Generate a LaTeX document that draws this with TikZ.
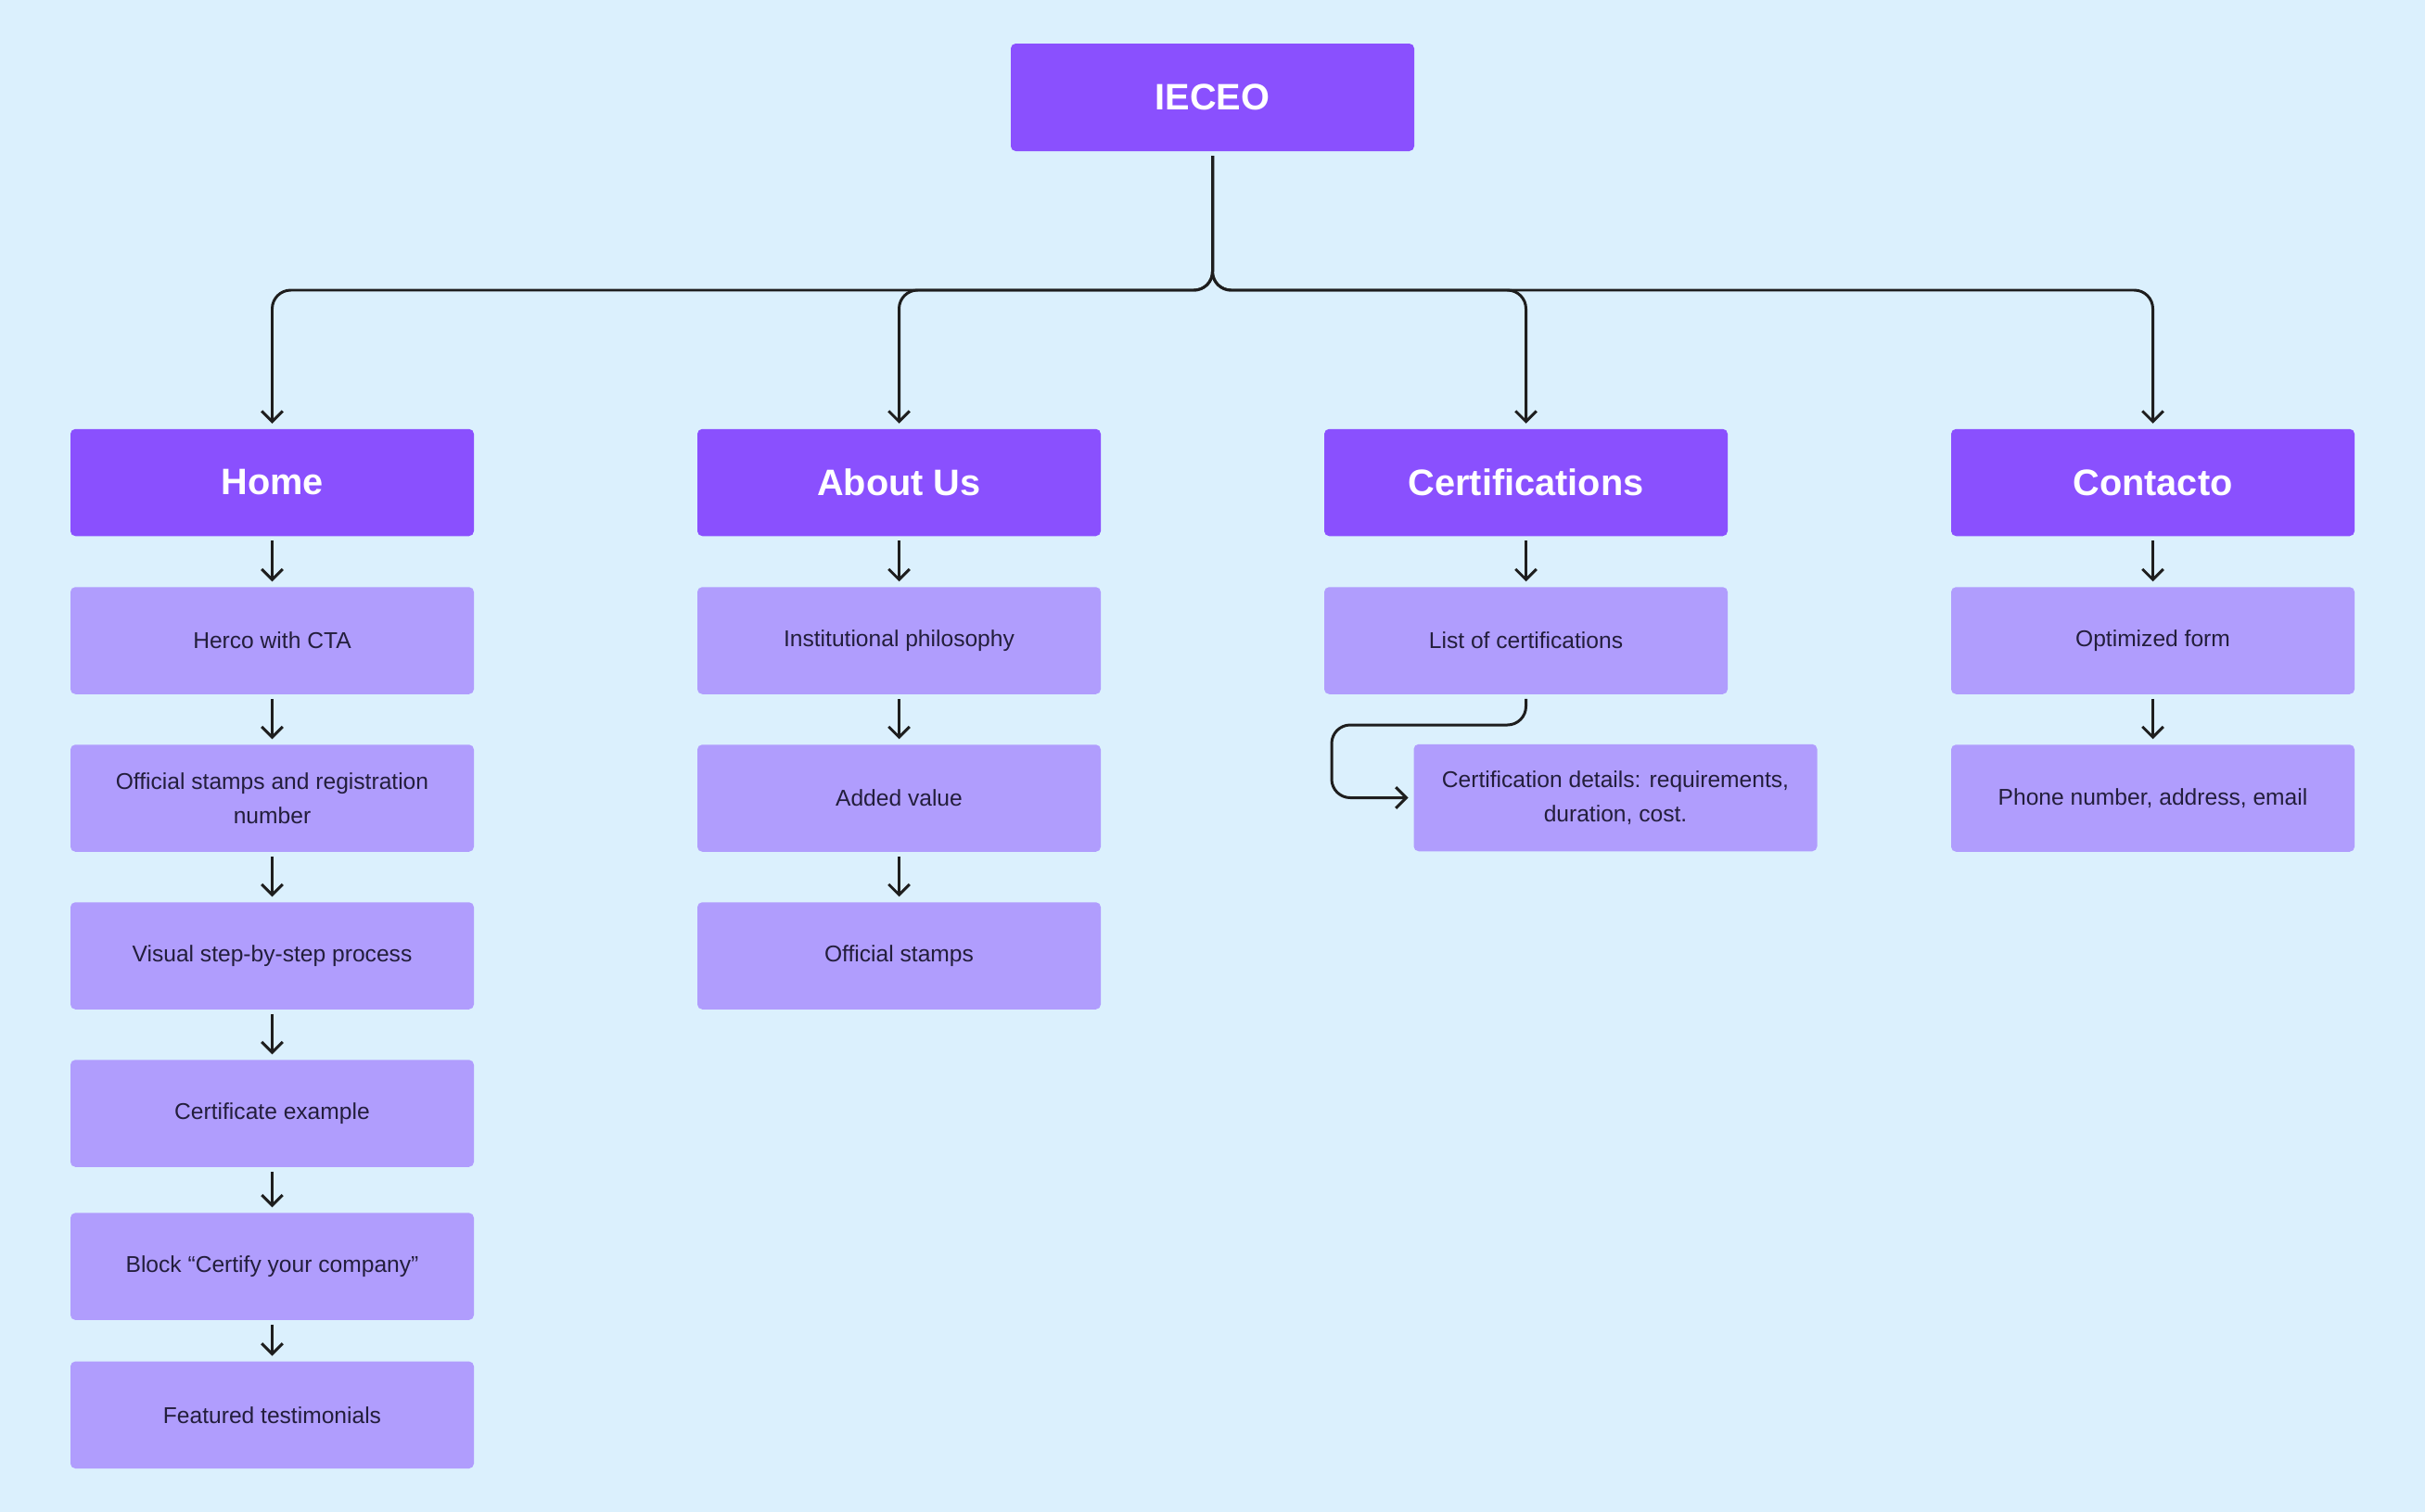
\documentclass[tikz,border=0pt]{standalone}
\usepackage{fontspec}
\setmainfont{Liberation Sans}
\usepackage{xcolor}
\usepackage{tikz}
\usetikzlibrary{arrows.meta,positioning,calc}
\definecolor{pagebg}{RGB}{219,240,253}
\definecolor{primary}{RGB}{138,80,254}
\definecolor{secondary}{RGB}{176,157,253}
\definecolor{textdark}{RGB}{35,30,60}
\definecolor{linedark}{RGB}{30,30,30}

\tikzset{
  header/.style={fill=primary, text=white, minimum width=43.5mm, minimum height=11.55mm,
    outer sep=0pt, rounded corners=1.5pt, font=\fontsize{11.3}{13}\selectfont\bfseries},
  item/.style={fill=secondary, text=textdark, minimum width=43.5mm, minimum height=11.55mm,
    outer sep=0pt, rounded corners=1.5pt, align=center, font=\fontsize{7}{10.4}\selectfont},
  link/.style={draw=linedark, line width=0.85pt, -{Straight Barb[length=3.2pt,width=6.4pt]},
    shorten <=0.5mm, shorten >=0.6mm},
}

\begin{document}
\begin{tikzpicture}[node distance=5.45mm]
    \fill[pagebg] (0,0) rectangle (26.15,-16.31);
    \useasboundingbox (0,0) rectangle (26.15,-16.31);

    % top level
    \node[header, minimum height=11.6mm] (ieceo) at (13.075,-1.05) {IECEO};
    \node[header] (home) at (2.935,-5.205) {Home};
    \node[header] (about) at (9.695,-5.205) {About Us};
    \node[header] (certs) at (16.455,-5.205) {Certifications};
    \node[header] (contacto) at (23.215,-5.205) {Contacto};

    % home column
    \node[item, below=5.5mm of home] (hero) {Herco with CTA};
    \node[item, below=of hero] (stamps) {Official stamps and registration\\number};
    \node[item, below=of stamps] (process) {Visual step-by-step process};
    \node[item, below=of process] (example) {Certificate example};
    \node[item, below=4.96mm of example] (block) {Block “Certify your company”};
    \node[item, below=4.47mm of block] (testimonials) {Featured testimonials};

    % about us column
    \node[item, below=5.5mm of about] (philosophy) {Institutional philosophy};
    \node[item, below=of philosophy] (value) {Added value};
    \node[item, below=of value] (offstamps) {Official stamps};

    % certifications column
    \node[item, below=5.5mm of certs] (certlist) {List of certifications};
    \node[item] (certdetail) at (17.42,-8.605) {Certification details: requirements,\\duration, cost.};

    % contacto column
    \node[item, below=5.5mm of contacto] (form) {Optimized form};
    \node[item, below=of form] (phone) {Phone number, address, email};

    % connectors
    \coordinate (bus) at (13.075,-3.13);
    \foreach \n in {home,about,certs,contacto}
        \draw[link, rounded corners=2mm] (ieceo.south) |- (bus -| \n.north) -- (\n.north);

    \foreach \a/\b in {home/hero, hero/stamps, stamps/process, process/example,
                       example/block, block/testimonials,
                       about/philosophy, philosophy/value, value/offstamps,
                       certs/certlist, contacto/form, form/phone}
        \draw[link] (\a) -- (\b);

    \coordinate (bend) at (14.36,-7.82);
    \draw[link, rounded corners=2mm] (certlist.south) |- (bend) |- (certdetail.west);
\end{tikzpicture}
\end{document}
